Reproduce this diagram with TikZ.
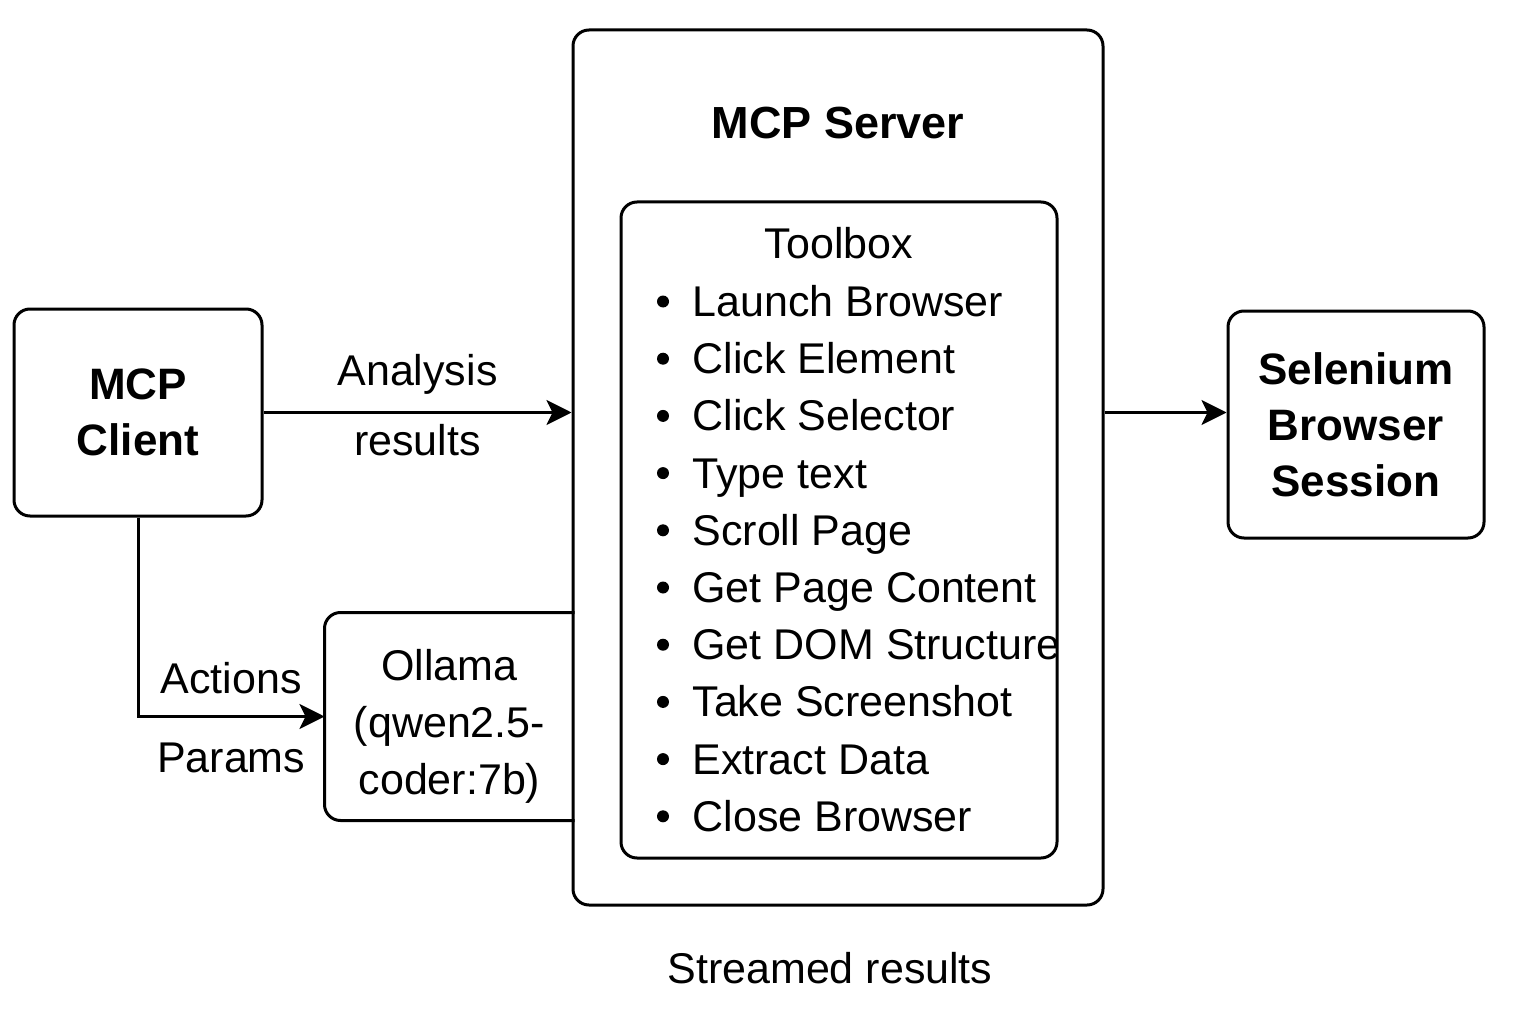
\documentclass[tikz,border=0pt]{standalone}
\usepackage{fontspec}
\setmainfont{Liberation Sans}
\usetikzlibrary{arrows.meta, positioning}

\begin{document}
\begin{tikzpicture}[x=1pt, y=-1pt, line width=3pt, >={Stealth[length=25pt, width=25pt, inset=6pt]},
	box/.style={draw, rounded corners=16pt, align=center, font=\fontsize{44}{56}\selectfont\bfseries},
	txt/.style={font=\fontsize{43}{57}\selectfont, inner sep=2pt, align=center},
	tool/.style={font=\fontsize{43}{57}\selectfont, inner sep=0pt, anchor=base west}]

		\useasboundingbox (0,0) rectangle (1536,1024);

		\node[box, minimum width=248pt, minimum height=207pt] (client) at (138,412.5) {MCP\\Client};
		\node[box, minimum width=530pt, minimum height=875pt] (server) at (838,467.5) {};
		\node[box, minimum width=256pt, minimum height=227pt] (selenium) at (1356,424.5) {Selenium\\Browser\\Session};
		\node[minimum width=247pt, minimum height=205pt] (ollama) at (449.5,716.5) {};
		\draw[rounded corners=16pt] (ollama.north east) -- (ollama.north west) -- (ollama.south west) -- (ollama.south east);
		\node[txt] (ollamatext) at ([yshift=-10pt]ollama.center) {Ollama\\(qwen2.5-\\coder:7b)};

		\node[font=\fontsize{45}{56}\selectfont\bfseries, inner sep=2pt] (srvtitle) [below=75pt of server.north] {MCP Server};
		\node[draw, rounded corners=16pt, minimum width=436pt, minimum height=656pt] (toolbox) at (839,530) {};
		\node[txt] (tbtitle) [below=23pt of toolbox.north] {Toolbox};

		\foreach \t [count=\i] in {Launch Browser, Click Element, Click Selector, Type text, Scroll Page,
				Get Page Content, Get DOM Structure, Take Screenshot, Extract Data, Close Browser} {
			\node[tool] (tool\i) at (691, {316.5+57.2*(\i-1)}) {\t};
			\fill ([xshift=-28pt, yshift=15pt]tool\i.base west) circle (6pt);
		}

		\node[txt] (streamed) [below=42pt of server.south, xshift=-8pt] {Streamed results};

		\coordinate (srvin) at (client.east -| server.west);
		\coordinate (srvout) at (client.east -| server.east);
		\coordinate (selin) at (client.east -| selenium.west);

		\path[->]
		(client.east) edge node[txt, above=15pt] {Analysis} node[txt, below=8pt] {results} (srvin)
		(srvout) edge (selin);
		\draw[->] (client.south) |- node[txt, pos=0.75, above=19pt] {Actions} node[txt, pos=0.75, below=23pt] {Params} (ollama.west);

\end{tikzpicture}
\end{document}
